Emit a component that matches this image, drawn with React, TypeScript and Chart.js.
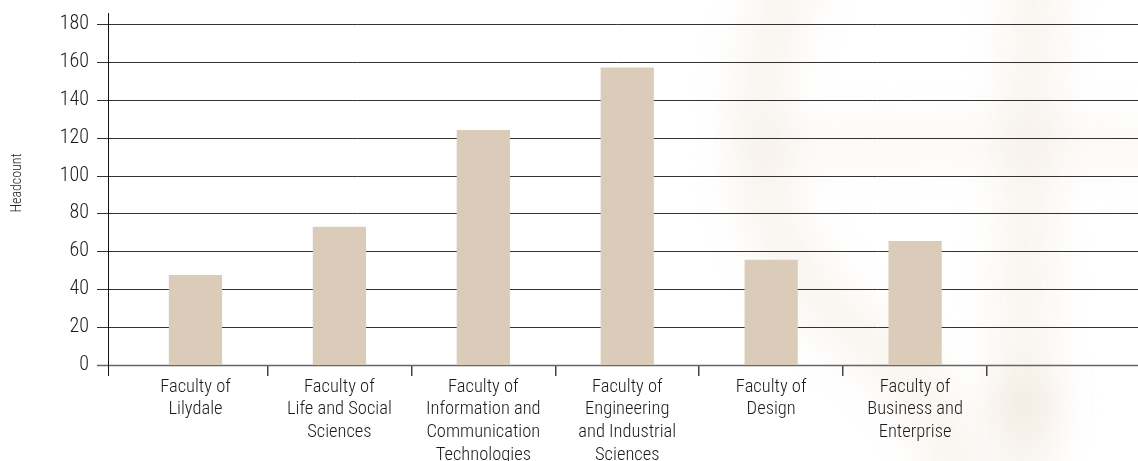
import React, { useEffect, useRef } from "react";
import { Chart, registerables } from "chart.js";

Chart.register(...registerables);

const categories: (string | string[])[] = [
  ["Faculty of", "Lilydale"],
  ["Faculty of", "Life and Social", "Sciences"],
  ["Faculty of", "Information and", "Communication", "Technologies"],
  ["Faculty of", "Engineering", "and Industrial", "Sciences"],
  ["Faculty of", "Design"],
  ["Faculty of", "Business and", "Enterprise"],
  "",
];

const headcount: (number | null)[] = [47.5, 73, 124, 157, 55.5, 65.5, null];

const yTicks: number[] = [0, 20, 40, 60, 80, 100, 120, 140, 160, 180];

const yTitle = "Headcount";

const FONT = "'Roboto Condensed', 'Liberation Sans Narrow', Arial, sans-serif";

const decorPlugin = {
  id: "decor",
  beforeDraw(chart: any) {
    const ctx = chart.ctx as CanvasRenderingContext2D;
    ctx.save();
    ctx.fillStyle = "#ffffff";
    ctx.fillRect(0, 0, chart.width, chart.height);
    ctx.filter = "blur(22px)";
    ctx.lineCap = "round";
    ctx.strokeStyle = "rgba(222, 200, 172, 0.22)";
    ctx.lineWidth = 46;
    ctx.beginPath();
    ctx.moveTo(800, -40);
    ctx.bezierCurveTo(735, 110, 735, 250, 880, 350);
    ctx.bezierCurveTo(930, 390, 950, 430, 960, 500);
    ctx.stroke();
    ctx.beginPath();
    ctx.moveTo(1035, -40);
    ctx.bezierCurveTo(1030, 120, 1020, 300, 1025, 500);
    ctx.stroke();
    ctx.strokeStyle = "rgba(222, 200, 172, 0.12)";
    ctx.lineWidth = 40;
    ctx.beginPath();
    ctx.moveTo(760, 150);
    ctx.bezierCurveTo(880, 140, 1000, 140, 1160, 150);
    ctx.stroke();
    ctx.fillStyle = "rgba(222, 200, 172, 0.25)";
    ctx.beginPath();
    ctx.arc(1025, 405, 32, 0, Math.PI * 2);
    ctx.fill();
    ctx.restore();
  },
  beforeDatasetsDraw(chart: any) {
    const ctx = chart.ctx as CanvasRenderingContext2D;
    const y = chart.scales.y;
    ctx.save();
    yTicks.forEach((v) => {
      const py = Math.round(y.getPixelForValue(v)) + 0.5;
      ctx.strokeStyle = v === 0 ? "#666666" : "#333333";
      ctx.lineWidth = v === 0 ? 1.5 : 1;
      ctx.beginPath();
      ctx.moveTo(97, py);
      ctx.lineTo(chart.width, py);
      ctx.stroke();
    });
    ctx.strokeStyle = "#111111";
    ctx.lineWidth = 1;
    ctx.beginPath();
    ctx.moveTo(108.5, 13);
    ctx.lineTo(108.5, Math.round(y.getPixelForValue(0)) + 11);
    ctx.stroke();
    ctx.fillStyle = "#222222";
    ctx.font = `300 14px ${FONT}`;
    ctx.textAlign = "center";
    ctx.textBaseline = "middle";
    ctx.translate(17, 183);
    ctx.rotate(-Math.PI / 2);
    ctx.fillText(yTitle, 0, 0);
    ctx.restore();
  },
};

export default function App() {
  const ref = useRef<HTMLCanvasElement | null>(null);

  useEffect(() => {
    document.body.style.margin = "0";
    if (!ref.current) return;
    const chart = new Chart(ref.current, {
      type: "bar",
      data: {
        labels: categories,
        datasets: [
          {
            data: headcount,
            backgroundColor: "#DBCCB9",
            borderWidth: 0,
            barPercentage: 0.37,
            categoryPercentage: 1,
          },
        ],
      },
      options: {
        animation: false,
        responsive: true,
        maintainAspectRatio: false,
        devicePixelRatio: 1,
        layout: { padding: { left: 0, right: 7, top: 24, bottom: 0 } },
        plugins: {
          legend: { display: false },
          tooltip: { enabled: false },
        },
        scales: {
          x: {
            offset: true,
            grid: {
              offset: true,
              drawOnChartArea: false,
              drawTicks: true,
              tickLength: 11,
              color: (c: any) =>
                c.type !== "tick" || c.index === 0 || c.index >= 7 ? "rgba(0,0,0,0)" : "#444444",
              lineWidth: 1.5,
            },
            border: { display: false },
            ticks: {
              autoSkip: false,
              maxRotation: 0,
              minRotation: 0,
              padding: 0,
              color: "#1a1a1a",
              font: { family: FONT, size: 18.5, weight: "300", lineHeight: 1.22 },
            },
            afterFit: (s: any) => {
              s.height = 96;
              s.paddingLeft = 0;
              s.paddingRight = 0;
            },
          },
          y: {
            min: 0,
            max: 180,
            grid: { display: false, drawTicks: false },
            border: { display: false },
            ticks: {
              stepSize: 20,
              padding: 34.5,
              color: "#1a1a1a",
              font: { family: FONT, size: 20, weight: "300" },
            },
            afterFit: (s: any) => {
              s.width = 123.5;
              s.paddingTop = 0;
              s.paddingBottom = 0;
            },
          },
        },
      },
      plugins: [decorPlugin],
    });
    return () => chart.destroy();
  }, []);

  return (
    <div style={{ width: "1138px", height: "461px", position: "relative" }}>
      <canvas ref={ref} />
    </div>
  );
}
